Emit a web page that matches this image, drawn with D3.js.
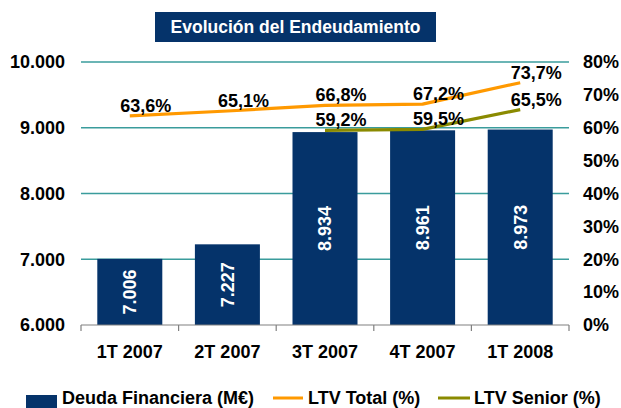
<!DOCTYPE html>
<html>
<head>
<meta charset="utf-8">
<script src="https://cdn.jsdelivr.net/npm/d3@7"></script>
<style>
  html, body { margin: 0; padding: 0; background: #fff; }
  svg { display: block; }
  text { font-family: "Liberation Sans", Arial, sans-serif; font-weight: bold; }
</style>
</head>
<body>
<svg id="chart" width="621" height="408"></svg>
<script>
const title = "Evolución del Endeudamiento";
const categories = ["1T 2007", "2T 2007", "3T 2007", "4T 2007", "1T 2008"];
const deuda = [7006, 7227, 8934, 8961, 8973];
const ltvTotal = [63.6, 65.1, 66.8, 67.2, 73.7];
const ltvSenior = [null, null, 59.2, 59.5, 65.5];
const leftTicks = [6000, 7000, 8000, 9000, 10000];
const rightTicks = [0, 10, 20, 30, 40, 50, 60, 70, 80];
const legendLabels = ["Deuda Financiera (M€)", "LTV Total (%)", "LTV Senior (%)"];

const navy = "#05336A", orange = "#FF9900", olive = "#8A8A00", teal = "#3A9C9C", ink = "#000";
const fmtThousands = v => d3.format(",")(v).replace(/,/g, ".");
const fmtPct = v => d3.format(".1f")(v).replace(".", ",") + "%";

const svg = d3.select("#chart");
const plotL = 81, plotR = 569, plotT = 62, plotB = 325;

const x = d3.scaleBand().domain(categories).range([plotL, plotR]).paddingInner(0.334).paddingOuter(0.167);
const y = d3.scaleLinear().domain([6000, 10000]).range([plotB, plotT]);
const y2 = d3.scaleLinear().domain([0, 80]).range([plotB, plotT]);

// Title
const tb = svg.append("g");
tb.append("rect").attr("x", 155).attr("y", 12).attr("width", 281).attr("height", 30).attr("fill", navy);
tb.append("text").attr("x", 295.5).attr("y", 27).attr("dy", "0.35em").attr("text-anchor", "middle")
  .attr("fill", "#fff").style("font-size", "17.5px").text(title);

// Gridlines
svg.append("g").selectAll("line").data(leftTicks.filter(t => t > 6000)).join("line")
  .attr("x1", plotL).attr("x2", plotR).attr("y1", d => y(d)).attr("y2", d => y(d))
  .attr("stroke", teal).attr("stroke-width", 1.3);

// Left axis labels
svg.append("g").selectAll("text").data(leftTicks).join("text")
  .attr("x", 65).attr("y", d => y(d)).attr("dy", "0.35em").attr("text-anchor", "end")
  .style("font-size", "18px").attr("fill", ink).text(fmtThousands);

// Right axis labels
svg.append("g").selectAll("text").data(rightTicks).join("text")
  .attr("x", 583).attr("y", d => y2(d)).attr("dy", "0.35em").attr("text-anchor", "start")
  .style("font-size", "18px").attr("fill", ink).text(d => d + "%");

// Bars
svg.append("g").selectAll("rect").data(deuda).join("rect")
  .attr("x", (d, i) => x(categories[i])).attr("width", x.bandwidth())
  .attr("y", d => y(d)).attr("height", d => y(6000) - y(d)).attr("fill", navy);

// Bar labels
svg.append("g").selectAll("text").data(deuda).join("text")
  .attr("transform", (d, i) => `translate(${x(categories[i]) + x.bandwidth() / 2},${(y(d) + y(6000)) / 2}) rotate(-90)`)
  .attr("text-anchor", "middle").attr("dy", "0.35em").attr("fill", "#fff")
  .style("font-size", "18px").text(fmtThousands);

// Bottom axis
const ax = svg.append("g").attr("stroke", "#808080").attr("stroke-width", 1.2);
ax.append("line").attr("x1", plotL).attr("x2", plotR).attr("y1", plotB).attr("y2", plotB);
ax.selectAll("line.tick").data(d3.range(categories.length + 1)).join("line").attr("class", "tick")
  .attr("x1", i => plotL + i * x.step()).attr("x2", i => plotL + i * x.step())
  .attr("y1", plotB).attr("y2", plotB + 6);

svg.append("g").selectAll("text").data(categories).join("text")
  .attr("x", d => x(d) + x.bandwidth() / 2).attr("y", 358).attr("text-anchor", "middle")
  .style("font-size", "18px").attr("fill", ink).text(d => d);

// Lines
const cx = i => x(categories[i]) + x.bandwidth() / 2;
function drawLine(vals, color) {
  const line = d3.line().defined(d => d != null).x((d, i) => cx(i)).y(d => y2(d));
  svg.append("path").datum(vals).attr("d", line).attr("fill", "none")
    .attr("stroke", color).attr("stroke-width", 3.2).attr("stroke-linejoin", "round");
  svg.append("g").selectAll("text").data(vals.map((v, i) => ({ v, i })).filter(d => d.v != null)).join("text")
    .attr("x", d => cx(d.i) + 16).attr("y", d => y2(d.v) - 4).attr("text-anchor", "middle")
    .style("font-size", "18px").attr("fill", ink).text(d => fmtPct(d.v));
}
drawLine(ltvTotal, orange);
drawLine(ltvSenior, olive);

// Legend
const lg = svg.append("g");
lg.append("rect").attr("x", 26).attr("y", 395).attr("width", 31).attr("height", 15).attr("fill", navy);
lg.append("text").attr("x", 62).attr("y", 404).style("font-size", "18px").attr("fill", ink).text(legendLabels[0]);
lg.append("line").attr("x1", 273).attr("x2", 303).attr("y1", 398).attr("y2", 398).attr("stroke", orange).attr("stroke-width", 3);
lg.append("text").attr("x", 308).attr("y", 404).style("font-size", "18px").attr("fill", ink).text(legendLabels[1]);
lg.append("line").attr("x1", 438).attr("x2", 470).attr("y1", 398).attr("y2", 398).attr("stroke", olive).attr("stroke-width", 3);
lg.append("text").attr("x", 474).attr("y", 404).style("font-size", "18px").attr("fill", ink).text(legendLabels[2]);
</script>
</body>
</html>
